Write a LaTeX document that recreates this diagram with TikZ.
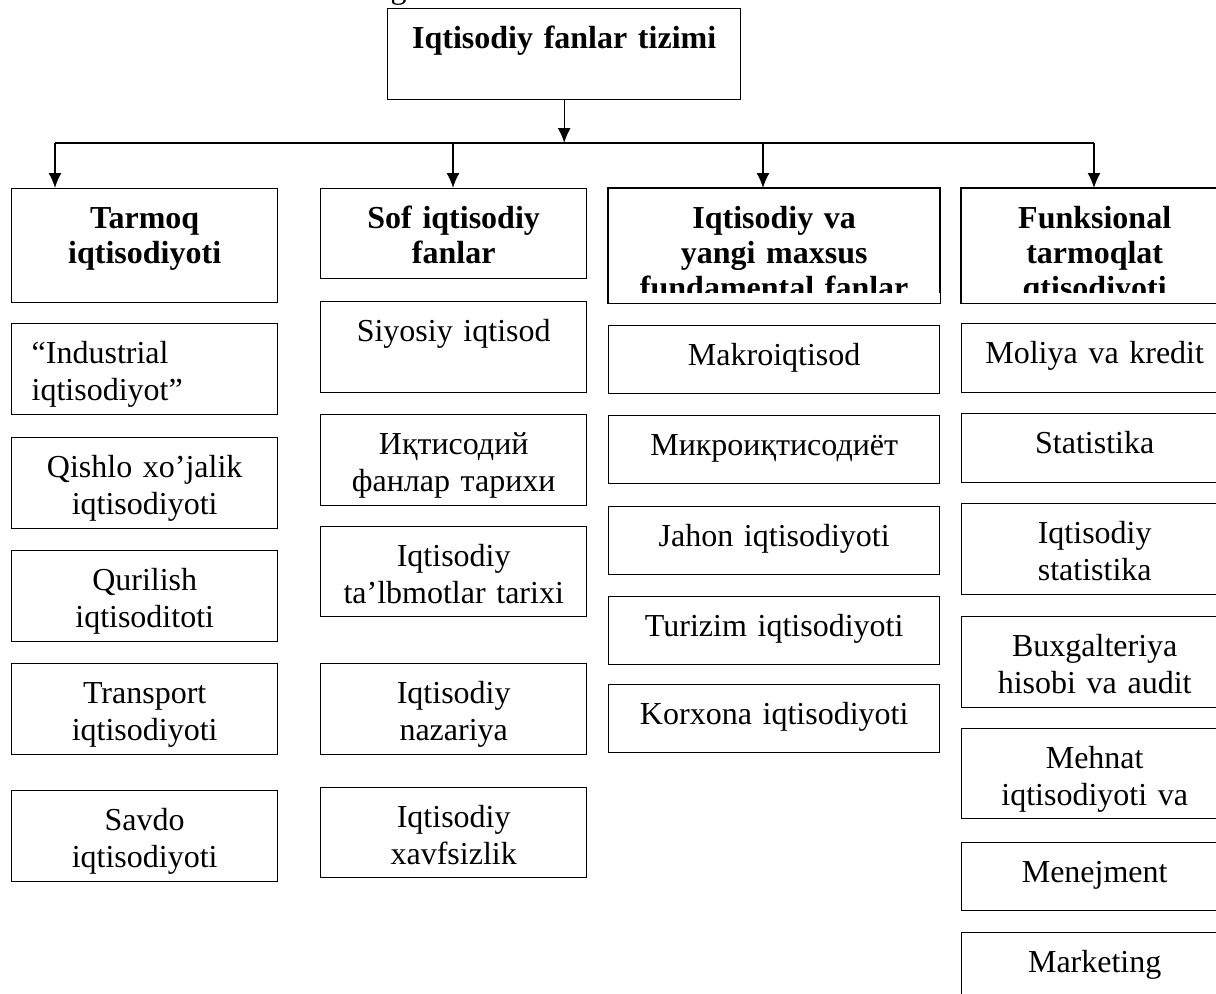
\documentclass[tikz,border=0pt]{standalone}
\usepackage{fontspec}
\setmainfont{Liberation Serif}
\usetikzlibrary{arrows.meta}

\begin{document}
\begin{tikzpicture}[x=0.5pt, y=-0.5pt, >={Latex[length=7.5pt,width=6.5pt]}, line width=.7pt,
  cell/.style={draw, anchor=north west, inner xsep=4pt, inner ysep=0pt, text width=125pt,
    align=center, text height=20pt, text depth=#1, font=\fontsize{16}{18.5}\selectfont},
  head/.style={cell=#1, font=\fontsize{16}{17.5}\selectfont\bfseries},
  wide/.style={text width=157.5pt}]
\clip (0,0) rectangle (1216,993);
\node[anchor=base west, inner sep=0pt, font=\fontsize{16}{18.5}\selectfont] (cap) at (390,-2) {g};
\node[head=25.5pt, text width=168.5pt] (top) at (387,8) {Iqtisodiy fanlar tizimi};

\coordinate (d1) at (55,143);
\coordinate (d2) at (453,143);
\coordinate (d3) at (763,143);
\coordinate (d4) at (1094,143);

\node[head=37pt] (h1) at (11,188) {Tarmoq\\iqtisodiyoti};
\node[head=25pt] (h2) at (320,188) {Sof iqtisodiy\\fanlar};
\begin{scope}
\clip (600,180) rectangle (1216,292);
\node[head=37pt, wide] (h3) at (608,188) {Iqtisodiy va\\yangi maxsus\\fundamental fanlar};
\node[head=37pt] (h4) at (961,188) {Funksional\\tarmoqlat\\qtisodiyoti};
\end{scope}
\draw (h3.north west) rectangle (h3.south east);
\draw (h4.north west) rectangle (h4.south east);

\draw[->] (top.south) -- (top.south |- d1);
\draw (d1) -- (d4);
\foreach \i in {1,...,4}
  \draw[->] (d\i) -- (d\i |- h\i.north);

\node[cell=25.5pt, align=left, inner xsep=10pt, text width=113pt] (c11) at (11,323) {“Industrial\\iqtisodiyot”};
\node[cell=25.5pt] (c12) at (11,437) {Qishlo xo’jalik\\iqtisodiyoti};
\node[cell=25.5pt] (c13) at (11,550) {Qurilish\\iqtisoditoti};
\node[cell=25.5pt] (c14) at (11,663) {Transport\\iqtisodiyoti};
\node[cell=25.5pt] (c15) at (11,790) {Savdo\\iqtisodiyoti};

\node[cell=25.5pt] (c21) at (320,301) {Siyosiy iqtisod};
\node[cell=25.5pt] (c22) at (320,414) {Иқтисодий\\фанлар тарихи};
\node[cell=25pt] (c23) at (320,526) {Iqtisodiy\\ta’lbmotlar tarixi};
\node[cell=25.5pt] (c24) at (320,663) {Iqtisodiy\\nazariya};
\node[cell=25pt] (c25) at (320,787) {Iqtisodiy\\xavfsizlik};

\node[cell=14pt, wide] (c31) at (608,325) {Makroiqtisod};
\node[cell=14pt, wide] (c32) at (608,415) {Микроиқтисодиёт};
\node[cell=14pt, wide] (c33) at (608,506) {Jahon iqtisodiyoti};
\node[cell=14pt, wide] (c34) at (608,596) {Turizim iqtisodiyoti};
\node[cell=14pt, wide] (c35) at (608,684) {Korxona iqtisodiyoti};

\node[cell=14.5pt] (c41) at (961,323) {Moliya va kredit};
\node[cell=14.5pt] (c42) at (961,413) {Statistika};
\node[cell=25.5pt] (c43) at (961,503) {Iqtisodiy\\statistika};
\node[cell=25.5pt] (c44) at (961,616) {Buxgalteriya\\hisobi va audit};
\node[cell=25pt] (c45) at (961,728) {Mehnat\\iqtisodiyoti va};
\node[cell=14pt] (c46) at (961,842) {Menejment};
\node[cell=14pt] (c47) at (961,932) {Marketing};
\end{tikzpicture}
\end{document}
